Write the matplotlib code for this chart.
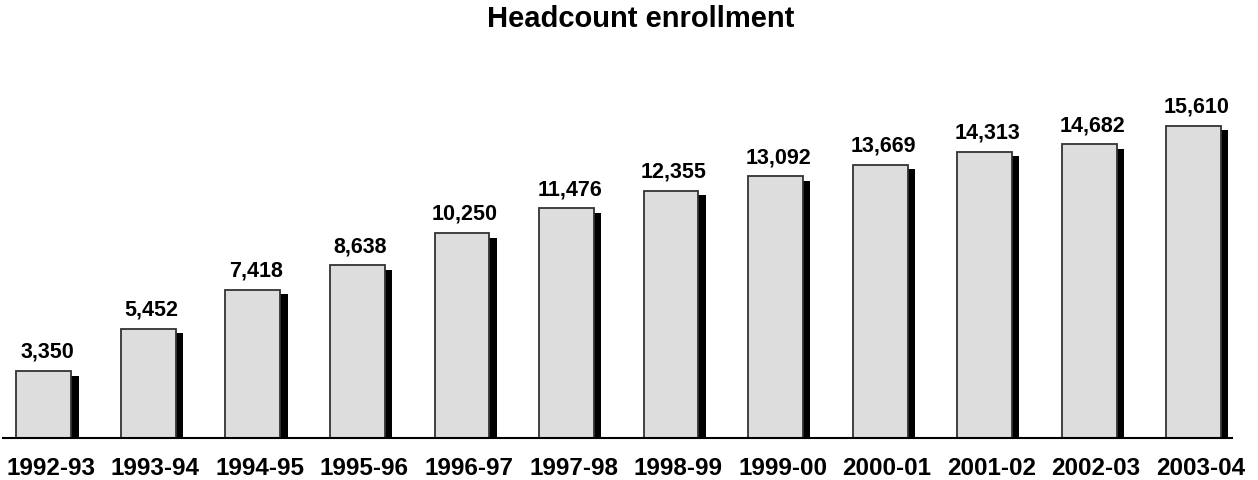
import matplotlib
matplotlib.use("Agg")
import matplotlib.pyplot as plt
from matplotlib.transforms import ScaledTranslation

years = ["1992-93", "1993-94", "1994-95", "1995-96", "1996-97", "1997-98",
         "1998-99", "1999-00", "2000-01", "2001-02", "2002-03", "2003-04"]
headcount = [3350, 5452, 7418, 8638, 10250, 11476, 12355, 13092, 13669,
             14313, 14682, 15610]

plt.rcParams["font.family"] = ["Liberation Sans", "DejaVu Sans"]
plt.rcParams["font.weight"] = "bold"

fig = plt.figure(figsize=(12.58, 4.81), dpi=100)
ax = fig.add_axes([3 / 1258, 42 / 481, 1229 / 1258, 359 / 481])

x = list(range(len(years)))
bar_w = 0.526
dx = 0.07    # shadow shift right
dy = 225     # shadow shift down (data units)

# drop shadow first, then the bar on top
ax.bar([i + dx for i in x], [v - dy for v in headcount], width=bar_w,
       color="black", zorder=1)
ax.bar(x, headcount, width=bar_w, color="#dddddd", edgecolor="#333333",
       linewidth=1.3, zorder=2)

for i, v in zip(x, headcount):
    ax.annotate(f"{v:,}", (i, v), xytext=(3, 14), textcoords="offset pixels",
                ha="center", va="baseline", fontsize=15.5, fontweight="bold")

ax.set_xlim(-0.392, 11.368)
ax.set_ylim(0, 17950)
ax.set_xticks(x, years)
ax.tick_params(axis="x", length=0, pad=13, labelsize=17.5)
ax.set_yticks([])
for lbl in ax.get_xticklabels():
    lbl.set_fontweight("bold")
    lbl.set_transform(lbl.get_transform() + ScaledTranslation(0.07, 0, fig.dpi_scale_trans))

for side in ["top", "right", "left"]:
    ax.spines[side].set_visible(False)
ax.spines["bottom"].set_linewidth(1.5)
ax.spines["bottom"].set_zorder(3)

fig.text(641 / 1258, 1 - 19 / 481, "Headcount enrollment", ha="center",
         va="center", fontsize=21, fontweight="bold")

fig.savefig("out.png", dpi=100)
